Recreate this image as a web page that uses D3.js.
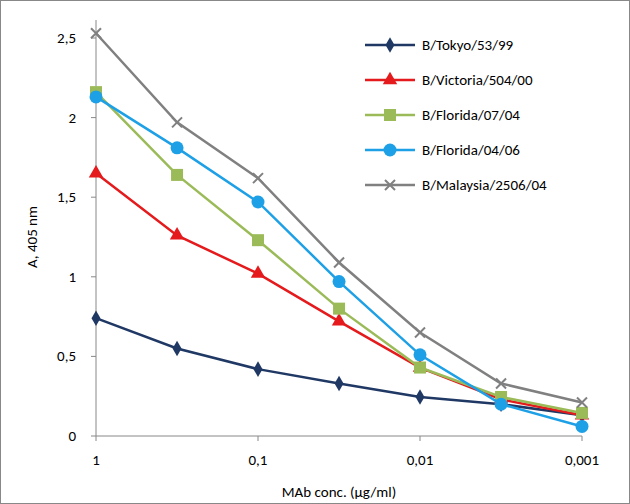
<!DOCTYPE html>
<html>
<head>
<meta charset="UTF-8">
<script src="https://d3js.org/d3.v7.min.js"></script>
<style>
  body { margin: 0; background: #fff; }
  text { font-family: Calibri, Carlito, "Liberation Sans", Arial, sans-serif; fill: #000; }
</style>
</head>
<body>
<div id="chart"></div>
<script>
const concs = [1, 0.316, 0.1, 0.0316, 0.01, 0.00316, 0.001];
const xTicks = [1, 0.1, 0.01, 0.001];
const xTickLabels = ["1", "0,1", "0,01", "0,001"];
const yTicks = [0, 0.5, 1, 1.5, 2, 2.5];
const yTickLabels = ["0", "0,5", "1", "1,5", "2", "2,5"];

const tokyo    = [0.74, 0.55, 0.42, 0.33, 0.245, 0.20, 0.13];
const victoria = [1.65, 1.26, 1.02, 0.72, 0.43, 0.23, 0.13];
const florida07 = [2.16, 1.64, 1.23, 0.80, 0.43, 0.245, 0.145];
const florida06 = [2.13, 1.81, 1.47, 0.97, 0.51, 0.20, 0.06];
const malaysia = [2.53, 1.97, 1.62, 1.09, 0.65, 0.33, 0.21];

const series = [
  { name: "B/Tokyo/53/99", values: tokyo, color: "#1f3864", marker: "diamond" },
  { name: "B/Victoria/504/00", values: victoria, color: "#e41a1c", marker: "triangle" },
  { name: "B/Florida/07/04", values: florida07, color: "#9bbb59", marker: "square" },
  { name: "B/Florida/04/06", values: florida06, color: "#1ea0e6", marker: "circle" },
  { name: "B/Malaysia/2506/04", values: malaysia, color: "#808080", marker: "cross" }
];

const W = 630, H = 504;
const svg = d3.select("#chart").append("svg").attr("width", W).attr("height", H);
svg.append("rect").attr("x", 0.5).attr("y", 0.5).attr("width", W - 1).attr("height", H - 1)
  .attr("fill", "#fff").attr("stroke", "#888");

const x = d3.scaleLog().domain([1, 0.001]).range([96, 582]);
const y = d3.scaleLinear().domain([0, 2.5]).range([436, 38]);

// axes
svg.append("line").attr("x1", 96).attr("x2", 96).attr("y1", 20).attr("y2", 436).attr("stroke", "#888");
svg.append("line").attr("x1", 96).attr("x2", 582).attr("y1", 436).attr("y2", 436).attr("stroke", "#888");
yTicks.forEach((t, i) => {
  svg.append("line").attr("x1", 91).attr("x2", 96).attr("y1", y(t)).attr("y2", y(t)).attr("stroke", "#888");
  svg.append("text").attr("x", 76).attr("y", y(t) + 5).attr("text-anchor", "end")
    .attr("font-size", 15).text(yTickLabels[i]);
});
xTicks.forEach((t, i) => {
  svg.append("line").attr("x1", x(t)).attr("x2", x(t)).attr("y1", 436).attr("y2", 441).attr("stroke", "#888");
  svg.append("text").attr("x", x(t)).attr("y", 465).attr("text-anchor", "middle")
    .attr("font-size", 15).text(xTickLabels[i]);
});
svg.append("text").attr("x", 339).attr("y", 497).attr("text-anchor", "middle")
  .attr("font-size", 15).text("MAb conc. (µg/ml)");
svg.append("text").attr("transform", "translate(37,237) rotate(-90)").attr("text-anchor", "middle")
  .attr("font-size", 15).text("A, 405 nm");

function drawMarker(g, type, cx, cy, color) {
  if (type === "diamond") {
    g.append("path").attr("d", d3.symbol(d3.symbolDiamond, 70)()).attr("transform", `translate(${cx},${cy}) scale(1,1)`).attr("fill", color);
  } else if (type === "triangle") {
    g.append("path").attr("d", d3.symbol(d3.symbolTriangle, 90)()).attr("transform", `translate(${cx},${cy})`).attr("fill", color);
  } else if (type === "square") {
    g.append("rect").attr("x", cx - 6).attr("y", cy - 6).attr("width", 12).attr("height", 12).attr("fill", color);
  } else if (type === "circle") {
    g.append("circle").attr("cx", cx).attr("cy", cy).attr("r", 6.5).attr("fill", color);
  } else {
    g.append("path").attr("d", `M${cx-5},${cy-5}L${cx+5},${cy+5}M${cx-5},${cy+5}L${cx+5},${cy-5}`)
      .attr("stroke", color).attr("stroke-width", 2);
  }
}

const line = d3.line().x((d, i) => x(concs[i])).y(d => y(d));
series.forEach(s => {
  const g = svg.append("g");
  g.append("path").attr("d", line(s.values)).attr("fill", "none").attr("stroke", s.color).attr("stroke-width", 2.5);
  s.values.forEach((v, i) => drawMarker(g, s.marker, x(concs[i]), y(v), s.color));
});

// legend
series.forEach((s, i) => {
  const ly = 45 + i * 35;
  const g = svg.append("g");
  g.append("line").attr("x1", 365).attr("x2", 415).attr("y1", ly).attr("y2", ly).attr("stroke", s.color).attr("stroke-width", 2.5);
  drawMarker(g, s.marker, 390, ly, s.color);
  g.append("text").attr("x", 422).attr("y", ly + 5).attr("font-size", 15).text(s.name);
});
</script>
</body>
</html>
